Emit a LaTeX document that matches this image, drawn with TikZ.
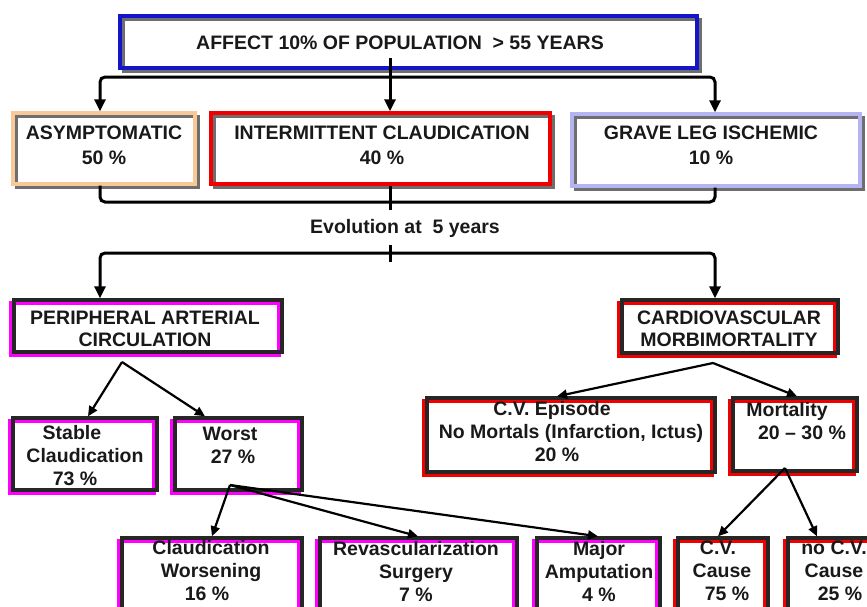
\documentclass[tikz,border=0pt]{standalone}
\usepackage{fontspec}
\setmainfont{Liberation Sans}
\usetikzlibrary{arrows.meta,shadows}
\definecolor{cblue}{RGB}{20,20,200}
\definecolor{cpeach}{RGB}{248,200,150}
\definecolor{cred}{RGB}{240,0,0}
\definecolor{clav}{RGB}{180,180,240}
\definecolor{cmag}{RGB}{255,0,255}
\definecolor{cshadow}{RGB}{110,110,110}
\definecolor{ctext}{RGB}{25,25,25}
\begin{document}
\begin{tikzpicture}[x=1pt,y=-1pt,
  txt/.style={font=\fontsize{19.5}{23}\selectfont\bfseries, text=ctext, inner sep=0pt, align=center},
  boxbase/.style={rectangle, inner sep=0pt, line width=3.4pt},
  upbox/.style={boxbase, draw=#1, general shadow={shadow xshift=3pt, shadow yshift=-3pt, draw=cshadow, line width=3pt}},
  lowbox/.style={boxbase, draw=black!85, general shadow={shadow xshift=-3pt, shadow yshift=-3pt, draw=#1, line width=3.4pt}},
  conn/.style={line width=3pt, black},
  thin conn/.style={line width=2.2pt, black},
  arr/.style={-{Triangle[width=11pt,length=12pt]}},
  sarr/.style={-{Triangle[width=9pt,length=10pt]}}
]
\useasboundingbox (0,0) rectangle (867,606);
\clip (0,0) rectangle (867,606);

% boxes
\node[upbox=cblue, minimum width=577pt, minimum height=52pt] (top) at (408.5,42) {};
\node[upbox=cpeach, minimum width=182pt, minimum height=71pt] (asym) at (104,148.5) {};
\node[upbox=cred, minimum width=339pt, minimum height=71pt] (inter) at (380.5,148.5) {};
\node[upbox=clav, minimum width=288pt, minimum height=72pt] (grave) at (716,150) {};
\node[lowbox=cmag, minimum width=268pt, minimum height=52pt] (periph) at (148,326) {};
\node[lowbox=cred, minimum width=216pt, minimum height=53pt] (cardio) at (730,326.5) {};
\node[lowbox=cmag, minimum width=144pt, minimum height=72pt] (stable) at (85,454) {};
\node[lowbox=cmag, minimum width=127pt, minimum height=72pt] (worst) at (238.5,454) {};
\node[lowbox=cred, minimum width=288pt, minimum height=74pt] (cvep) at (571,435) {};
\node[lowbox=cred, minimum width=124pt, minimum height=73pt] (mort) at (795,434.5) {};
\node[lowbox=cmag, minimum width=180pt, minimum height=102pt] (cw) at (212,589) {};
\node[lowbox=cmag, minimum width=197pt, minimum height=102pt] (rev) at (418.5,589) {};
\node[lowbox=cmag, minimum width=123pt, minimum height=102pt] (major) at (598.5,589) {};
\node[lowbox=cred, minimum width=90pt, minimum height=102pt] (cvc) at (723,589) {};
\node[lowbox=cred, minimum width=112pt, minimum height=102pt] (nocv) at (844,589) {};

% texts
\node[txt] (ttop) at (400,43) {AFFECT 10\% OF POPULATION~~> 55 YEARS};
\node[txt, font=\fontsize{19.5}{25}\selectfont\bfseries] (tasym) at (104,145.5) {ASYMPTOMATIC\\50 \%};
\node[txt, font=\fontsize{19.5}{25}\selectfont\bfseries] (tinter) at (382,145.5) {INTERMITTENT CLAUDICATION\\40 \%};
\node[txt, font=\fontsize{19.5}{25}\selectfont\bfseries] (tgrave) at (711,145.5) {GRAVE LEG ISCHEMIC\\10 \%};
\node[txt] (evo) at (405,228) {Evolution at~~5 years};
\node[txt, font=\fontsize{19.5}{22}\selectfont\bfseries] (tperiph) at (145,329) {PERIPHERAL ARTERIAL\\CIRCULATION};
\node[txt, font=\fontsize{19.5}{22}\selectfont\bfseries] (tcardio) at (729,329) {CARDIOVASCULAR\\MORBIMORTALITY};
\node[txt] (tstable) at (85,456) {Stable\hspace*{26pt}\\Claudication\\73 \%\hspace*{20pt}};
\node[txt] (tworst) at (233,445) {Worst\hspace*{6pt}\\27 \%};
\node[txt] (tcvep) at (571,432) {C.V. Episode\hspace*{38pt}\\No Mortals (Infarction, Ictus)\\20 \%\hspace*{28pt}};
\node[txt] (tmort) at (802,421) {Mortality\hspace*{30pt}\\20 -- 30 \%};
\node[txt] (tcw) at (211,571) {Claudication\\Worsening\hspace*{4pt}\\16 \%\hspace*{8pt}};
\node[txt] (trev) at (416,571) {Revascularization\\Surgery\hspace*{12pt}\\7 \%};
\node[txt] (tmajor) at (599,571) {Major\\Amputation\\4 \%};
\node[txt] (tcvc) at (722,571) {C.V.\hspace*{8pt}\\Cause\\\hspace*{10pt}75 \%};
\node[txt] (tnocv) at (834,571) {no C.V.\\Cause\hspace*{4pt}\\\hspace*{12pt}25 \%};

% helper coordinates
\coordinate (xA) at (100,0);
\coordinate (xB) at (390,0);
\coordinate (xC) at (715,0);
\coordinate (c0) at (390,58);
\coordinate (jA) at (390,77);
\coordinate (jB) at (390,202);
\coordinate (tB) at (390,210);
\coordinate (tC) at (390,245);
\coordinate (jC) at (390,253);
\coordinate (tD) at (390,262);
\coordinate (pA) at (122,362);
\coordinate (cA) at (713,363);
\coordinate (wA) at (230,485);
\coordinate (mA) at (785,468);
\coordinate (xS) at (88,0);
\coordinate (xW) at (205,0);
\coordinate (xE) at (557,0);
\coordinate (xM) at (797,0);
\coordinate (xCW) at (212,0);
\coordinate (xR) at (418,0);
\coordinate (xMA) at (598,0);
\coordinate (xCC) at (718,0);
\coordinate (xNC) at (817,0);

% top trident
\draw[conn, arr] (c0) -- (xB |- inter.north);
\draw[conn, arr, rounded corners=5pt] (jA) -- (xA |- jA) -- (xA |- asym.north);
\draw[conn, arr, rounded corners=5pt] (jA) -- (xC |- jA) -- (xC |- grave.north);

% join below row 2
\draw[conn, rounded corners=5pt] (xA |- asym.south) -- (xA |- jB) -- (xC |- jB) -- (xC |- grave.south);
\draw[conn] (xB |- inter.south) -- (tB);

% split after evolution
\draw[conn] (tC) -- (tD);
\draw[conn, arr, rounded corners=5pt] (jC) -- (xA |- jC) -- (xA |- periph.north);
\draw[conn, arr, rounded corners=5pt] (jC) -- (xC |- jC) -- (xC |- cardio.north);

% lower arrows
\draw[thin conn, sarr] (pA) -- (xS |- stable.north);
\draw[thin conn, sarr] (pA) -- (xW |- worst.north);
\draw[thin conn, sarr] (cA) -- (xE |- cvep.north);
\draw[thin conn, sarr] (cA) -- (xM |- mort.north);
\draw[thin conn, sarr] (wA) -- (xCW |- cw.north);
\draw[thin conn, sarr] (wA) -- (xR |- rev.north);
\draw[thin conn, sarr] (wA) -- (xMA |- major.north);
\draw[thin conn, sarr] (mA) -- (xCC |- cvc.north);
\draw[thin conn, sarr] (mA) -- (xNC |- nocv.north);
\end{tikzpicture}
\end{document}
